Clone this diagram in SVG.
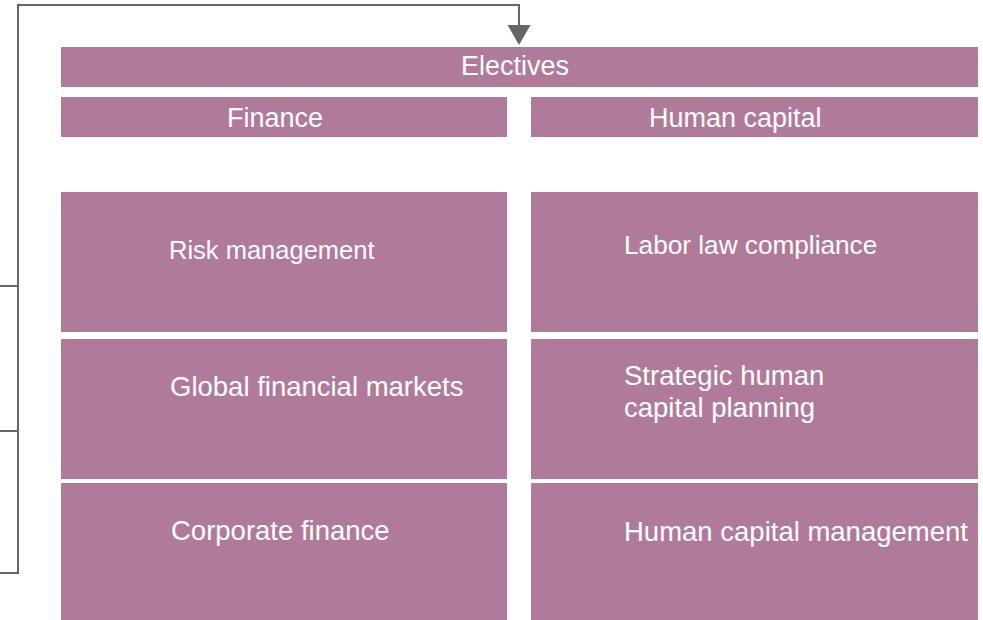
<svg xmlns="http://www.w3.org/2000/svg" width="983" height="620" viewBox="0 0 983 620">
<defs>
<style>
.box{fill:#B07B9B;}
.t{font-family:"Liberation Sans",Arial,Helvetica,sans-serif;fill:#ffffff;font-size:27.5px;}
.s{font-size:25.5px;}
.l{font-size:26.2px;}
.h{font-size:27px;}
.c{fill:none;stroke:#666666;stroke-width:2;}
</style>
</defs>
<g id="connectors">
<path class="c" d="M0,286 H18 M0,431 H18 M0,573 H18 V5 H519 V26"/>
<path d="M507.5,25 L530.5,25 L519,45 Z" fill="#666666"/>
</g>
<g id="electives"><rect class="box" x="61" y="47" width="917" height="40"/><text class="t h" x="461" y="75">Electives</text></g>
<g id="finance"><rect class="box" x="61" y="97" width="446" height="40"/><text class="t h" x="227" y="127">Finance</text></g>
<g id="human-capital"><rect class="box" x="531" y="97" width="447" height="40"/><text class="t h" x="649" y="127">Human capital</text></g>
<g id="risk-management"><rect class="box" x="61" y="192" width="446" height="140"/><text class="t s" x="169" y="259">Risk management</text></g>
<g id="global-financial-markets"><rect class="box" x="61" y="339" width="446" height="140"/><text class="t" x="170" y="396">Global financial markets</text></g>
<g id="corporate-finance"><rect class="box" x="61" y="483" width="446" height="137"/><text class="t" x="171" y="540">Corporate finance</text></g>
<g id="labor-law-compliance"><rect class="box" x="531" y="192" width="447" height="140"/><text class="t l" x="624" y="254">Labor law compliance</text></g>
<g id="strategic-human-capital-planning"><rect class="box" x="531" y="339" width="447" height="140"/><text class="t" x="624" y="385">Strategic human</text><text class="t" x="624" y="417">capital planning</text></g>
<g id="human-capital-management"><rect class="box" x="531" y="483" width="447" height="137"/><text class="t" x="624" y="541">Human capital management</text></g>
</svg>
